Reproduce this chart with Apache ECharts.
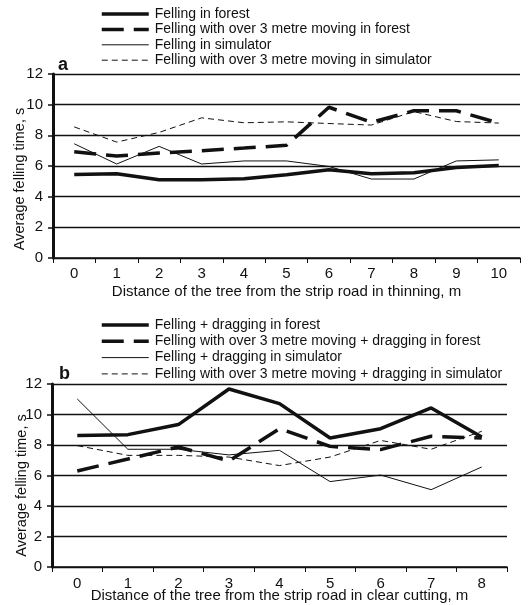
<!DOCTYPE html>
<html>
<head>
<meta charset="UTF-8">
<title>Average felling time</title>
<script src="https://cdn.jsdelivr.net/npm/echarts@6/dist/echarts.min.js"></script>
<style>
  body { margin: 0; padding: 0; background: #fff; }
  #main { width: 529px; height: 605px; }
</style>
</head>
<body>
<div id="main"></div>
<script>
// panel a: thinning
var distA = ['0', '1', '2', '3', '4', '5', '6', '7', '8', '9', '10'];
var forestA = [5.45, 5.5, 5.1, 5.1, 5.17, 5.43, 5.76, 5.5, 5.56, 5.9, 6.04];
var forestMoveA = [6.93, 6.65, 6.85, 7.0, 7.17, 7.35, 9.83, 8.85, 9.6, 9.6, 8.8];
var simA = [7.45, 6.13, 7.28, 6.13, 6.33, 6.33, 5.97, 5.15, 5.15, 6.33, 6.4];
var simMoveA = [8.55, 7.56, 8.19, 9.14, 8.82, 8.88, 8.77, 8.67, 9.55, 8.9, 8.8];

// panel b: clear cutting
var distB = ['0', '1', '2', '3', '4', '5', '6', '7', '8'];
var forestB = [8.62, 8.68, 9.34, 11.67, 10.71, 8.46, 9.07, 10.43, 8.52];
var forestMoveB = [6.3, 7.08, 7.87, 6.95, 9.07, 7.91, 7.7, 8.57, 8.46];
var simB = [11.02, 7.72, 7.72, 7.35, 7.65, 5.6, 6.03, 5.07, 6.56];
var simMoveB = [7.96, 7.32, 7.32, 7.21, 6.65, 7.21, 8.3, 7.72, 8.9];

var yTicks = [0, 2, 4, 6, 8, 10, 12];

var namesA = ['Felling in forest', 'Felling with over 3 metre moving in forest',
  'Felling in simulator', 'Felling with over 3 metre moving in simulator'];
var namesB = ['Felling + dragging in forest', 'Felling with over 3 metre moving + dragging in forest',
  'Felling + dragging in simulator', 'Felling with over 3 metre moving + dragging in simulator'];

var font = 'Liberation Sans, Arial, sans-serif';

var styles = [
  { width: 3.5, type: 'solid', color: '#111' },
  { width: 3.5, type: [22, 10], color: '#111' },
  { width: 1, type: 'solid', color: '#111' },
  { width: 1, type: [6, 4], color: '#111' }
];

function makeX(idx, cats, name, labelMargin, nameGap) {
  return {
    type: 'category', gridIndex: idx, data: cats, boundaryGap: true,
    name: name, nameLocation: 'middle', nameGap: nameGap, nameMoveOverlap: false,
    nameTextStyle: { color: '#111', fontSize: 15, fontFamily: font },
    axisLine: { lineStyle: { color: '#111', width: 1.5 } },
    axisTick: { show: true, length: 5, inside: false, alignWithLabel: false, lineStyle: { color: '#111' } },
    axisLabel: { color: '#111', fontSize: 15, fontFamily: font, margin: labelMargin, interval: 0 },
    splitLine: { show: false }
  };
}

function makeY(idx, shift, gap) {
  return {
    type: 'value', gridIndex: idx, min: 0, max: 12, interval: 2,
    name: 'Average felling time, s', nameLocation: 'middle', nameGap: gap, nameMoveOverlap: false,
    nameTextStyle: { color: '#111', fontSize: 14.5, fontFamily: font, padding: [0, shift, 0, 0] },
    axisLine: { show: true, lineStyle: { color: '#111', width: 3 } },
    axisTick: { show: true, length: 5, lineStyle: { color: '#111', width: 1.5 } },
    axisLabel: { color: '#111', fontSize: 15, fontFamily: font, margin: 10,
      formatter: function (v) { return yTicks.indexOf(v) >= 0 ? String(v) : ''; } },
    splitLine: { show: true, lineStyle: { color: '#111', width: 1.3 } }
  };
}

function makeSeries(names, datas, idx) {
  return names.map(function (n, i) {
    return {
      name: n, type: 'line', xAxisIndex: idx, yAxisIndex: idx,
      data: datas[i], symbol: 'none', smooth: false,
      lineStyle: styles[i], itemStyle: { color: '#111' },
      z: i < 2 ? 3 : 2
    };
  });
}

function makeLegend(names, top, gap) {
  return {
    data: names.map(function (n, i) {
      return { name: n, lineStyle: styles[i], itemStyle: { opacity: 0 } };
    }),
    orient: 'vertical', left: 95, top: top,
    itemWidth: 47, itemHeight: 14, itemGap: gap,
    textStyle: { color: '#111', fontSize: 14, fontFamily: font, padding: [0, 0, 0, 1] },
    selectedMode: false
  };
}

var chart = echarts.init(document.getElementById('main'));
chart.setOption({
  animation: false,
  backgroundColor: '#fff',
  title: [
    { text: 'a', left: 53, top: 51, textStyle: { fontSize: 18, fontWeight: 'bold', fontFamily: font, color: '#111' } },
    { text: 'b', left: 54, top: 360, textStyle: { fontSize: 18, fontWeight: 'bold', fontFamily: font, color: '#111' } }
  ],
  legend: [makeLegend(namesA, 2, 1.4), makeLegend(namesB, 313, 2.3)],
  grid: [
    { left: 53, right: 9, top: 74, height: 184, outerBoundsMode: 'none' },
    { left: 52, right: 22, top: 384, height: 183, outerBoundsMode: 'none' }
  ],
  xAxis: [
    makeX(0, distA, 'Distance of the tree from the strip road in thinning, m', 8, 26),
    makeX(1, distB, 'Distance of the tree from the strip road in clear cutting, m', 9, 21)
  ],
  yAxis: [makeY(0, 26, 26), makeY(1, 20, 23)],
  series: makeSeries(namesA, [forestA, forestMoveA, simA, simMoveA], 0)
    .concat(makeSeries(namesB, [forestB, forestMoveB, simB, simMoveB], 1))
});
</script>
</body>
</html>
